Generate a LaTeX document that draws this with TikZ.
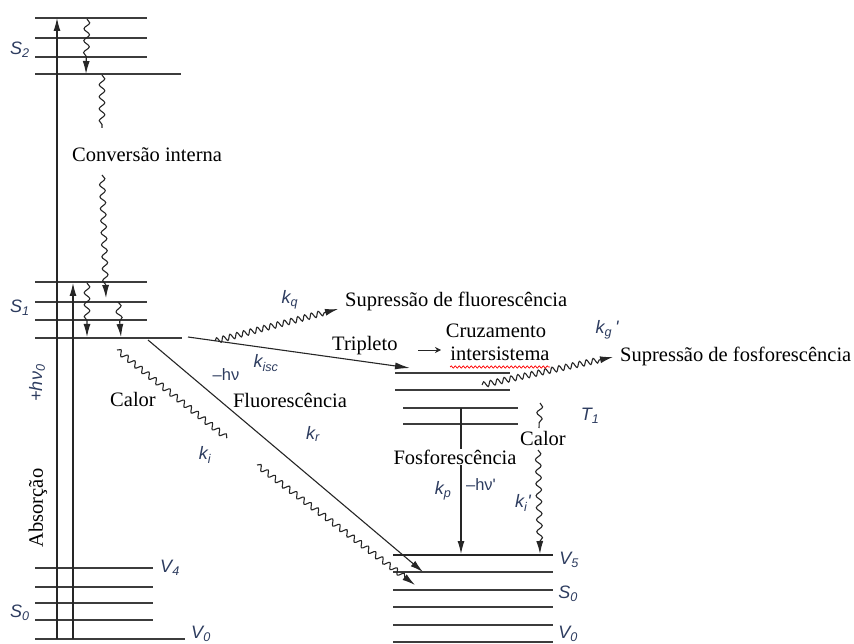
\documentclass[tikz,border=0pt]{standalone}
\usepackage{fontspec}
\setmainfont{Liberation Serif}
\newfontfamily\labfont{Liberation Sans}
\usetikzlibrary{arrows.meta,decorations.pathmorphing}
\definecolor{labc}{RGB}{45,60,95}
\definecolor{levc}{RGB}{60,60,60}
\begin{document}
\begin{tikzpicture}[x=1pt,y=-1pt,
 lvl/.style={draw=levc,line width=1.6pt},
 ln/.style={draw=black!85,line width=1.1pt},
 arr/.style={-{Latex[length=13pt,width=7pt]}},
 wavyv/.style={decorate,decoration={snake,amplitude=2.8pt,segment length=12pt,post length=12pt}},
 wavyd/.style={decorate,decoration={snake,amplitude=2.8pt,segment length=9pt,post length=12pt}},
 txt/.style={font=\fontsize{20.5}{24}\selectfont,inner sep=0pt},
 lab/.style={font=\labfont\itshape\fontsize{18}{20}\selectfont,text=labc,inner sep=0pt},
 labu/.style={font=\labfont\fontsize{16.5}{19}\selectfont,text=labc,inner sep=0pt}]
\useasboundingbox (0,0) rectangle (854,644);
% ---- energy levels, left (S2, S1, S0)
\foreach \yy in {18,38,57} \draw[lvl] (35,\yy) -- (147,\yy);
\draw[lvl] (35,74) -- (181,74);
\foreach \yy in {282,302,320} \draw[lvl] (35,\yy) -- (147,\yy);
\draw[lvl] (35,338) -- (182,338);
\foreach \yy in {568,587,603,620} \draw[lvl] (35,\yy) -- (153,\yy);
\draw[lvl] (35,639) -- (185,639);
% ---- right (T1, S0)
\draw[lvl] (395,373) -- (510,373);
\draw[lvl] (395,390) -- (510,390);
\draw[lvl] (403,408) -- (518,408);
\draw[lvl] (403,424) -- (518,424);
\draw[ln] (393,555) -- (553,555);
\foreach \yy in {572,590,607,625,642} \draw[lvl] (393,\yy) -- (553,\yy);
% ---- coordinates
\coordinate (abA0) at (57,639); \coordinate (abA1) at (57,18);
\coordinate (abB0) at (73,639); \coordinate (abB1) at (73,283);
\coordinate (icS2a) at (87,19); \coordinate (icS2b) at (86,74);
\coordinate (ic1a) at (102,75); \coordinate (ic1b) at (102,128);
\coordinate (ic2a) at (102,175); \coordinate (ic2b) at (106,298);
\coordinate (vr1a) at (87,283); \coordinate (vr1b) at (87,337);
\coordinate (vr2a) at (118,302); \coordinate (vr2b) at (121,337);
\coordinate (iscA) at (188,337); \coordinate (iscB) at (410,368);
\coordinate (kqA) at (215,341); \coordinate (kqB) at (338,309);
\coordinate (kgA) at (482,385); \coordinate (kgB) at (613,357);
\coordinate (flA) at (148,340); \coordinate (flB) at (423,572);
\coordinate (ca1) at (117,350); \coordinate (ca2) at (227,438);
\coordinate (ca3) at (257,465); \coordinate (ca4) at (415,585);
\coordinate (phA) at (461,408); \coordinate (phB) at (461,554);
\coordinate (cr1) at (540,403); \coordinate (cr2) at (539,428);
\coordinate (cr3) at (538,450); \coordinate (cr4) at (540,554);
\coordinate (trA) at (418,350); \coordinate (trB) at (441,350);
\coordinate (ulA) at (450,367); \coordinate (ulB) at (550,367);
% ---- arrows
\draw[ln,arr] (abA0) -- (abA1);
\draw[ln,arr] (abB0) -- (abB1);
\draw[ln,arr,wavyv] (icS2a) -- (icS2b);
\draw[ln,wavyv,decoration={post length=0pt}] (ic1a) -- (ic1b);
\draw[ln,arr,wavyv] (ic2a) -- (ic2b);
\draw[ln,arr,wavyv] (vr1a) -- (vr1b);
\draw[ln,arr,wavyv] (vr2a) -- (vr2b);
\draw[ln,-{Latex[length=15pt,width=7pt]}] (iscA) -- (iscB);
\draw[ln,arr,wavyd,decoration={segment length=7pt}] (kqA) -- (kqB);
\draw[ln,arr,wavyd,decoration={segment length=7pt}] (kgA) -- (kgB);
\draw[ln,arr] (flA) -- (flB);
\draw[ln,wavyd,decoration={post length=0pt}] (ca1) -- (ca2);
\draw[ln,arr,wavyd] (ca3) -- (ca4);
\draw[ln,arr] (phA) -- (phB);
\draw[ln,wavyv,decoration={post length=0pt}] (cr1) -- (cr2);
\draw[ln,arr,wavyv] (cr3) -- (cr4);
\draw[ln,line width=1pt,-{Stealth[length=6pt,width=6pt]}] (trA) -- (trB);
\draw[red,line width=0.7pt,decorate,decoration={snake,amplitude=1.2pt,segment length=4pt}] (ulA) -- (ulB);
% ---- texts
\node[txt,anchor=west] (tConv) at (72,155) {Conversão interna};
\node[txt,anchor=west] (tSupF) at (345,301) {Supressão de fluorescência};
\node[txt,anchor=west] (tTrip) at (332,346) {Tripleto};
\node[txt] (tCruz) at (496,331) {Cruzamento};
\node[txt] (tInter) at (500,354) {intersistema};
\node[txt,anchor=west] (tSupP) at (620,356) {Supressão de fosforescência};
\node[txt] (tCalL) at (133,399) {Calor};
\node[txt] (tFluo) at (290,400) {Fluorescência};
\node[txt,fill=white,inner sep=1pt] (tFosf) at (455,457) {Fosforescência};
\node[txt] (tCalR) at (543,438) {Calor};
\node[txt,rotate=90] (tAbs) at (38,508) {Absorção};
% ---- labels
\node[lab] (lS2) at (20,50) {S\textsubscript{2}};
\node[lab] (lS1) at (20,308) {S\textsubscript{1}};
\node[lab] (lS0a) at (20,613) {S\textsubscript{0}};
\node[lab] (lV4) at (170,568) {V\textsubscript{4}};
\node[lab] (lV0a) at (201,634) {V\textsubscript{0}};
\node[lab] (lkq) at (290,300) {k\textsubscript{q}};
\node[lab] (lkisc) at (266,363) {k\textsubscript{isc}};
\node[labu] (lhv) at (226,375) {–hν};
\node[lab] (lki) at (205,455) {k\textsubscript{i}};
\node[lab] (lkr) at (313,434) {k\textsubscript{r}};
\node[lab] (lkg) at (607,330) {k\textsubscript{g}\,\textquotesingle};
\node[lab] (lT1) at (590,416) {T\textsubscript{1}};
\node[lab] (lkp) at (443,491) {k\textsubscript{p}};
\node[labu] (lhv2) at (481,485) {–hν\textquotesingle};
\node[lab] (lki2) at (523,503) {k\textsubscript{i}\textquotesingle};
\node[lab] (lV5) at (569,560) {V\textsubscript{5}};
\node[lab] (lS0b) at (568,594) {S\textsubscript{0}};
\node[lab] (lV0b) at (568,634) {V\textsubscript{0}};
\node[lab,rotate=90] (lhv0) at (37,383) {+hν\textsubscript{0}};
\end{tikzpicture}
\end{document}
